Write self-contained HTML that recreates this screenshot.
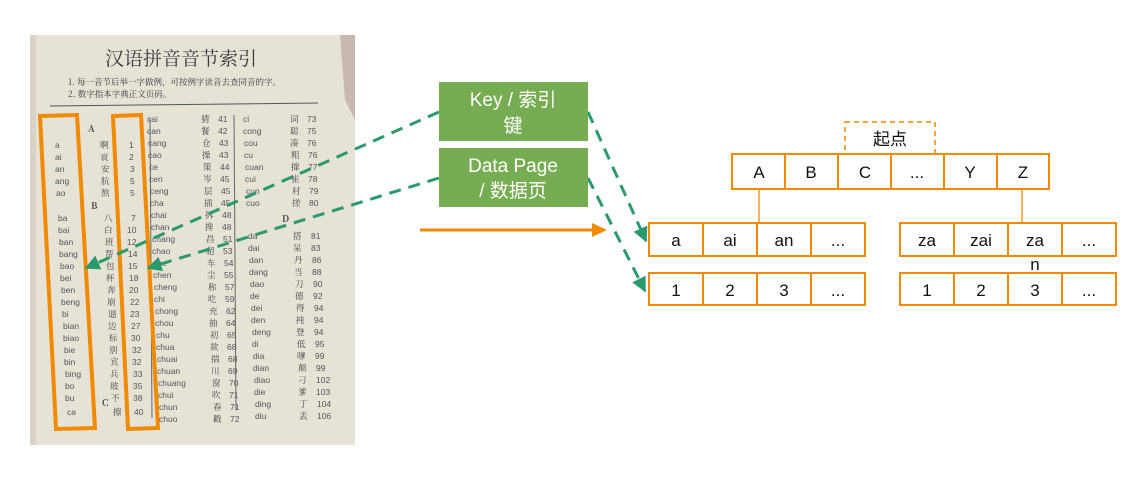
<!DOCTYPE html>
<html><head><meta charset="utf-8"><style>
html,body{margin:0;padding:0;background:#fff;}
body{width:1137px;height:495px;overflow:hidden;position:relative;font-family:"Liberation Sans","Noto Sans CJK SC",sans-serif;}
</style></head><body>
<svg width="1137" height="495" viewBox="0 0 1137 495" xmlns="http://www.w3.org/2000/svg" style="position:absolute;left:0;top:0">
<defs>
<marker id="ga" viewBox="0 0 10 10" refX="9" refY="5" markerWidth="5" markerHeight="5" orient="auto"><path d="M0,0 L10,5 L0,10z" fill="#2a9a6c"/></marker>
</defs>
<!-- photo -->
<rect x="30" y="35" width="325" height="410" fill="#e6e2d6"/>
<polygon points="340,35 355,35 355,120 345,100" fill="#c9b8b0"/>
<rect x="30" y="35" width="6" height="410" fill="#d8d3c6"/>
<g font-family="'Noto Serif CJK SC','Liberation Serif',serif" fill="#3a3a3a">
<text x="105" y="65" font-size="19">汉语拼音音节索引</text>
<text x="68" y="85" font-size="8.5">1. 每一音节后举一字做例，可按例字读音去查同音的字。</text>
<text x="68" y="97" font-size="8.5">2. 数字指本字典正文页码。</text>
</g>
<line x1="50" y1="106" x2="318" y2="103" stroke="#555" stroke-width="1"/>
<line x1="150" y1="118" x2="152" y2="418" stroke="#666" stroke-width="1"/>
<line x1="234" y1="115" x2="236" y2="410" stroke="#666" stroke-width="1"/>
<g font-size="8.5" fill="#555" font-family="'Liberation Sans','Noto Sans CJK SC',sans-serif">
<text x="55" y="148">a</text><text x="55" y="160">ai</text><text x="55" y="172">an</text><text x="55" y="184">ang</text><text x="56" y="196">ao</text>
<text x="58" y="221">ba</text><text x="58" y="233">bai</text><text x="59" y="245">ban</text><text x="59" y="257">bang</text><text x="60" y="269">bao</text><text x="60" y="281">bei</text><text x="61" y="293">ben</text><text x="61" y="305">beng</text><text x="62" y="317">bi</text><text x="63" y="329">bian</text><text x="63" y="341">biao</text><text x="64" y="353">bie</text><text x="64" y="365">bin</text><text x="65" y="377">bing</text><text x="65" y="389">bo</text><text x="65" y="401">bu</text><text x="67" y="415">ca</text>
<text x="129" y="148">1</text><text x="129" y="160">2</text><text x="130" y="172">3</text><text x="130" y="184">5</text><text x="130" y="196">5</text>
<text x="131" y="221">7</text><text x="127" y="233">10</text><text x="127" y="245">12</text><text x="128" y="257">14</text><text x="128" y="269">15</text><text x="129" y="281">18</text><text x="129" y="293">20</text><text x="130" y="305">22</text><text x="130" y="317">23</text><text x="131" y="329">27</text><text x="131" y="341">30</text><text x="132" y="353">32</text><text x="132" y="365">32</text><text x="133" y="377">33</text><text x="133" y="389">35</text><text x="133" y="401">38</text><text x="134" y="415">40</text>
<text x="147" y="122">cai</text><text x="147" y="134">can</text><text x="148" y="146">cang</text><text x="148" y="158">cao</text><text x="149" y="170">ce</text><text x="149" y="182">cen</text><text x="150" y="194">ceng</text><text x="150" y="206">cha</text><text x="151" y="218">chai</text><text x="151" y="230">chan</text><text x="152" y="242">chang</text><text x="152" y="254">chao</text><text x="153" y="266">che</text><text x="153" y="278">chen</text><text x="154" y="290">cheng</text><text x="154" y="302">chi</text><text x="155" y="314">chong</text><text x="155" y="326">chou</text><text x="156" y="338">chu</text><text x="156" y="350">chua</text><text x="157" y="362">chuai</text><text x="157" y="374">chuan</text><text x="158" y="386">chuang</text><text x="158" y="398">chui</text><text x="159" y="410">chun</text><text x="159" y="422">chuo</text>
<text x="243" y="122">ci</text><text x="243" y="134">cong</text><text x="244" y="146">cou</text><text x="244" y="158">cu</text><text x="245" y="170">cuan</text><text x="245" y="182">cui</text><text x="246" y="194">cun</text><text x="246" y="206">cuo</text>
<text x="248" y="239">da</text><text x="248" y="251">dai</text><text x="249" y="263">dan</text><text x="249" y="275">dang</text><text x="250" y="287">dao</text><text x="250" y="299">de</text><text x="251" y="311">dei</text><text x="251" y="323">den</text><text x="252" y="335">deng</text><text x="252" y="347">di</text><text x="253" y="359">dia</text><text x="253" y="371">dian</text><text x="254" y="383">diao</text><text x="254" y="395">die</text><text x="255" y="407">ding</text><text x="255" y="419">diu</text>
</g>
<g font-size="8.5" fill="#444" font-family="'Noto Serif CJK SC',serif">
<text x="100" y="148">啊</text><text x="100" y="160">哀</text><text x="101" y="172">安</text><text x="101" y="184">肮</text><text x="101" y="196">熬</text>
<text x="104" y="221">八</text><text x="104" y="233">白</text><text x="105" y="245">班</text><text x="105" y="257">帮</text><text x="106" y="269">包</text><text x="106" y="281">杯</text><text x="107" y="293">奔</text><text x="107" y="305">崩</text><text x="108" y="317">逼</text><text x="108" y="329">边</text><text x="109" y="341">标</text><text x="109" y="353">别</text><text x="110" y="365">宾</text><text x="110" y="377">兵</text><text x="110" y="389">玻</text><text x="111" y="401">不</text><text x="113" y="415">擦</text>
<text x="201" y="122">猜</text><text x="201" y="134">餐</text><text x="202" y="146">仓</text><text x="202" y="158">操</text><text x="203" y="170">策</text><text x="203" y="182">岑</text><text x="204" y="194">层</text><text x="204" y="206">插</text><text x="205" y="218">拆</text><text x="205" y="230">搀</text><text x="206" y="242">昌</text><text x="206" y="254">超</text><text x="207" y="266">车</text><text x="207" y="278">尘</text><text x="208" y="290">称</text><text x="208" y="302">吃</text><text x="209" y="314">充</text><text x="209" y="326">抽</text><text x="210" y="338">初</text><text x="210" y="350">欻</text><text x="211" y="362">揣</text><text x="211" y="374">川</text><text x="212" y="386">窗</text><text x="212" y="398">吹</text><text x="213" y="410">春</text><text x="213" y="422">戳</text>
<text x="290" y="122">词</text><text x="290" y="134">聪</text><text x="290" y="146">凑</text><text x="291" y="158">粗</text><text x="291" y="170">撺</text><text x="291" y="182">崔</text><text x="292" y="194">村</text><text x="292" y="206">搓</text>
<text x="293" y="239">搭</text><text x="293" y="251">呆</text><text x="294" y="263">丹</text><text x="294" y="275">当</text><text x="295" y="287">刀</text><text x="295" y="299">德</text><text x="296" y="311">得</text><text x="296" y="323">扽</text><text x="296" y="335">登</text><text x="297" y="347">低</text><text x="297" y="359">嗲</text><text x="298" y="371">颠</text><text x="298" y="383">刁</text><text x="298" y="395">爹</text><text x="299" y="407">丁</text><text x="299" y="419">丢</text>
<text x="88" y="132" font-weight="bold" font-size="9">A</text><text x="91" y="209" font-weight="bold" font-size="9">B</text><text x="102" y="406" font-weight="bold" font-size="9">C</text><text x="282" y="222" font-weight="bold" font-size="9">D</text>
</g>
<g font-size="8.5" fill="#555">
<text x="218" y="122">41</text><text x="218" y="134">42</text><text x="219" y="146">43</text><text x="219" y="158">43</text><text x="220" y="170">44</text><text x="220" y="182">45</text><text x="221" y="194">45</text><text x="221" y="206">45</text><text x="222" y="218">48</text><text x="222" y="230">48</text><text x="223" y="242">51</text><text x="223" y="254">53</text><text x="224" y="266">54</text><text x="224" y="278">55</text><text x="225" y="290">57</text><text x="225" y="302">59</text><text x="226" y="314">62</text><text x="226" y="326">64</text><text x="227" y="338">65</text><text x="227" y="350">68</text><text x="228" y="362">68</text><text x="228" y="374">69</text><text x="229" y="386">70</text><text x="229" y="398">71</text><text x="230" y="410">71</text><text x="230" y="422">72</text>
<text x="307" y="122">73</text><text x="307" y="134">75</text><text x="307" y="146">76</text><text x="308" y="158">76</text><text x="308" y="170">77</text><text x="308" y="182">78</text><text x="309" y="194">79</text><text x="309" y="206">80</text>
<text x="311" y="239">81</text><text x="311" y="251">83</text><text x="312" y="263">86</text><text x="312" y="275">88</text><text x="313" y="287">90</text><text x="313" y="299">92</text><text x="314" y="311">94</text><text x="314" y="323">94</text><text x="314" y="335">94</text><text x="315" y="347">95</text><text x="315" y="359">99</text><text x="316" y="371">99</text><text x="316" y="383">102</text><text x="316" y="395">103</text><text x="317" y="407">104</text><text x="317" y="419">106</text>
</g>
<polygon points="40,116 77,115 95,428 56,429" fill="none" stroke="#f08a00" stroke-width="4"/>
<polygon points="113,116 141,115 158,428 128,429" fill="none" stroke="#f08a00" stroke-width="4"/>
<!-- green dashed lines -->
<g stroke="#2a9a6c" stroke-width="3" stroke-dasharray="12,8" fill="none">
<line x1="439" y1="112" x2="86" y2="268" marker-end="url(#ga)"/>
<line x1="439" y1="178" x2="148" y2="268" marker-end="url(#ga)"/>
<line x1="588" y1="112" x2="646" y2="241" marker-end="url(#ga)"/>
<line x1="588" y1="178" x2="645" y2="291" marker-end="url(#ga)"/>
</g>
<!-- green boxes -->
<rect x="439" y="82" width="149" height="59" fill="#77ad52"/>
<rect x="439" y="148" width="149" height="59" fill="#77ad52"/>
<g fill="#fff" font-size="19" text-anchor="middle">
<text x="513" y="106">Key / 索引</text><text x="513" y="132">键</text>
<text x="513" y="172">Data Page</text><text x="513" y="197">/ 数据页</text>
</g>
<!-- orange arrow -->
<line x1="420" y1="230" x2="594" y2="230" stroke="#f08a00" stroke-width="3"/>
<polygon points="592,223 607,230 592,237" fill="#f08a00"/>
<!-- tree -->
<rect x="845" y="122" width="90" height="32" fill="none" stroke="#f08a00" stroke-width="1.5" stroke-dasharray="5,4"/>
<text x="890" y="145" font-size="17" text-anchor="middle" fill="#111">起点</text>
<g fill="#fff" stroke="#f08a00" stroke-width="2">
<rect x="732" y="154" width="53" height="35"/><rect x="785" y="154" width="53" height="35"/><rect x="838" y="154" width="53" height="35"/><rect x="891" y="154" width="53" height="35"/><rect x="944" y="154" width="53" height="35"/><rect x="997" y="154" width="52" height="35"/>
<rect x="649" y="223" width="54" height="33"/><rect x="703" y="223" width="54" height="33"/><rect x="757" y="223" width="54" height="33"/><rect x="811" y="223" width="54" height="33"/>
<rect x="900" y="223" width="54" height="33"/><rect x="954" y="223" width="54" height="33"/><rect x="1008" y="223" width="54" height="33"/><rect x="1062" y="223" width="54" height="33"/>
<rect x="649" y="273" width="54" height="32"/><rect x="703" y="273" width="54" height="32"/><rect x="757" y="273" width="54" height="32"/><rect x="811" y="273" width="54" height="32"/>
<rect x="900" y="273" width="54" height="32"/><rect x="954" y="273" width="54" height="32"/><rect x="1008" y="273" width="54" height="32"/><rect x="1062" y="273" width="54" height="32"/>
</g>
<line x1="759" y1="189" x2="759" y2="223" stroke="#f08a00" stroke-width="1.3"/>
<line x1="1022" y1="189" x2="1022" y2="223" stroke="#f08a00" stroke-width="1.3"/>
<g font-size="17" text-anchor="middle" fill="#111">
<text x="759" y="178">A</text><text x="811" y="178">B</text><text x="865" y="178">C</text><text x="917" y="178">...</text><text x="970" y="178">Y</text><text x="1023" y="178">Z</text>
<text x="676" y="246">a</text><text x="730" y="246">ai</text><text x="784" y="246">an</text><text x="838" y="246">...</text>
<text x="927" y="246">za</text><text x="981" y="246">zai</text><text x="1035" y="246">za</text><text x="1089" y="246">...</text>
<text x="1035" y="270">n</text>
<text x="676" y="296">1</text><text x="730" y="296">2</text><text x="784" y="296">3</text><text x="838" y="296">...</text>
<text x="927" y="296">1</text><text x="981" y="296">2</text><text x="1035" y="296">3</text><text x="1089" y="296">...</text>
</g>
</svg>
</body></html>
